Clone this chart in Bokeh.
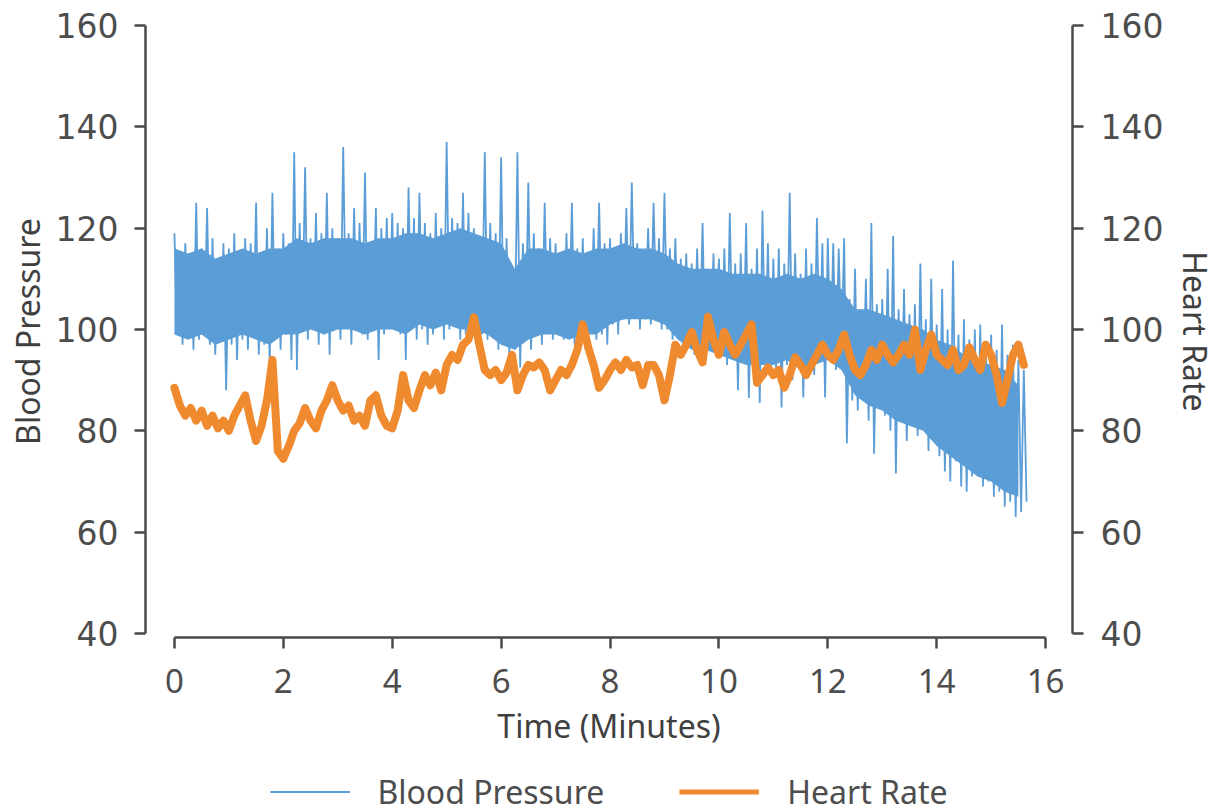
import numpy as np
from bokeh.plotting import figure
from bokeh.layouts import column
from bokeh.models import Range1d, LinearAxis, Legend, LegendItem, FixedTicker
from bokeh.embed import file_html
from bokeh.resources import INLINE

# ---------------- data ----------------
# Blood pressure, sampled every 0.05 min (alternating beat peaks / troughs)
bp_step = 0.05
bp_min00 = [119, 99, 113, 97, 117, 100, 115, 96, 125, 98, 116, 99, 124, 97, 118, 95, 114, 98, 117, 88]
bp_min01 = [116, 97, 119, 94, 113, 98, 118, 96, 117, 99, 125, 95, 115, 97, 120, 93, 127, 98, 116, 96]
bp_min02 = [119, 99, 117, 94, 135, 92, 121, 100, 132, 98, 118, 101, 123, 97, 119, 99, 127, 95, 120, 100]
bp_min03 = [118, 98, 136, 101, 119, 97, 124, 100, 121, 99, 131, 98, 117, 101, 124, 94, 120, 99, 122, 100]
bp_min04 = [123, 100, 121, 99, 120, 94, 128, 101, 122, 98, 127, 100, 121, 97, 119, 99, 123, 101, 120, 98]
bp_min05 = [137, 100, 122, 102, 121, 98, 127, 99, 123, 101, 120, 97, 118, 99, 135, 98, 121, 100, 119, 96]
bp_min06 = [134, 97, 118, 95, 110, 96, 135, 92.5, 117, 98, 129, 96, 119, 99, 116, 97, 125, 100, 118, 98]
bp_min07 = [117, 99, 115, 98, 119, 100, 125, 97, 116, 99, 118, 96, 114, 100, 120, 98, 125, 99, 117, 97]
bp_min08 = [118, 101, 116, 99, 119, 102, 124, 101, 129, 103, 117, 100, 115, 102, 120, 101, 125, 103, 118, 100]
bp_min09 = [127, 100, 116, 98, 118, 99, 114, 96, 115, 97, 113, 95, 116, 97, 121, 94, 112, 96, 115, 95]
bp_min10 = [114, 95, 116, 93, 123, 96, 113, 88, 115, 94, 121, 86.5, 112, 92, 116, 85.5, 123.5, 94, 117, 91]
bp_min11 = [114, 92, 116, 84.6, 113, 93, 127, 90, 115, 94, 111, 86.6, 116, 92, 113, 91, 122, 94, 117, 86.6]
bp_min12 = [118, 94, 117, 92, 116, 95, 118, 77.5, 106, 86, 112, 84, 104, 88, 110, 82, 121, 75.5, 105, 85]
bp_min13 = [106, 83, 112, 80, 118.5, 71.6, 104, 82, 108, 78, 103, 84, 105, 79, 113, 81, 102, 76, 110, 78]
bp_min14 = [101, 75, 108, 72, 100, 70, 113.6, 74, 99, 69, 102, 68, 98, 71, 100, 73, 101, 69, 97, 70]
bp_min15 = [99, 67, 96, 68, 101, 65, 95, 66, 97, 63, 94, 64, 92, 66]

# Dense core of the blood-pressure trace, every 0.25 min
core_step = 0.25
bp_core_upper = [116, 115, 116, 114, 115, 116, 115, 116, 116, 118, 117, 118, 118, 118, 117, 118,
                 118, 119, 119, 118, 119, 120, 119, 118, 117, 112, 116, 116, 115, 116, 115, 116,
                 116, 117, 116, 116, 115, 113, 112, 112, 112, 111, 111, 111, 110, 111, 110, 111,
                 110, 108, 104, 104, 103, 102, 101, 100, 98, 97, 95, 94, 93, 92, 89]
bp_core_lower = [99, 98, 99, 97, 98, 99, 98, 97, 99, 99, 100, 99, 100, 100, 99, 100,
                 100, 99, 101, 100, 101, 100, 100, 99, 97, 96, 98, 99, 99, 98, 99, 99,
                 101, 102, 102, 102, 101, 98, 96, 96, 95, 94, 93, 93, 93, 94, 92, 93,
                 94, 92, 87, 85, 84, 82, 81, 80, 77, 75, 73, 71, 70, 68, 67]

# Heart rate, sampled every 0.1 min
hr_step = 0.1
hr_values = [
    88.5, 85, 83, 84.5, 82, 84, 81, 83, 80.5, 82,
    80, 83, 85, 87, 82, 78, 81, 86, 94, 76,
    74.5, 77, 80, 81.5, 84.5, 82, 80.5, 84, 86, 89,
    86, 84, 85, 82, 83, 81, 86, 87, 83, 81,
    80.5, 84, 91, 86, 84.5, 88, 91, 89, 91.5, 88,
    93, 95, 94, 97, 98, 102.4, 97, 92, 91, 92,
    90, 91.5, 95, 88, 91, 93, 92.5, 93.5, 92, 88,
    90, 92, 91, 93, 96, 101, 96.5, 93, 88.5, 90,
    92, 93.5, 92, 94, 92.5, 93, 89, 93, 93, 91,
    86, 91, 97, 95, 97, 99.5, 96, 93.5, 102.5, 98,
    95, 99.5, 97, 95, 97, 99, 101, 89.5, 91, 92.5,
    91, 92, 88.5, 91, 94.5, 93, 91, 93, 95, 97,
    95, 94, 96, 99, 95, 92, 91, 93, 96, 94,
    97, 95, 93.5, 95, 97, 95, 100, 92, 96, 99,
    95, 94, 93, 96, 92, 93, 96.5, 94, 92, 97,
    95, 91, 85.5, 90, 95, 97, 93,
]

x_ticks = [0, 2, 4, 6, 8, 10, 12, 14, 16]
y_ticks = [40, 60, 80, 100, 120, 140, 160]

bp_values = (bp_min00 + bp_min01 + bp_min02 + bp_min03 + bp_min04 + bp_min05 + bp_min06 + bp_min07
             + bp_min08 + bp_min09 + bp_min10 + bp_min11 + bp_min12 + bp_min13 + bp_min14 + bp_min15)
bp_time = np.arange(len(bp_values)) * bp_step
core_time = np.arange(len(bp_core_upper)) * core_step
hr_time = np.arange(len(hr_values)) * hr_step

# ---------------- figure ----------------
BLUE = "#5B9DD6"
ORANGE = "#F08A2E"
AX = "#4a4a4a"
TXT = "#4d4d4d"
SANS = "Noto Sans"

MAIN_H = 770
p = figure(width=1220, height=MAIN_H, output_backend="svg", toolbar_location=None,
           x_range=Range1d(-0.531, 16.494), y_range=Range1d(39.21, 160),
           min_border_left=145, min_border_right=145, min_border_top=25,
           min_border_bottom=MAIN_H - 637)
p.extra_y_ranges = {"hr": Range1d(39.21, 160)}
p.outline_line_color = None
p.xgrid.visible = False
p.ygrid.visible = False
p.background_fill_color = "white"

p.varea(x=core_time, y1=bp_core_lower, y2=bp_core_upper, fill_color=BLUE, fill_alpha=1.0)
r_bp = p.line(bp_time, bp_values, line_color=BLUE, line_width=1.8)
r_hr = p.line(hr_time, hr_values, line_color=ORANGE, line_width=8, y_range_name="hr",
              line_join="round", line_cap="round")

def style_axis(ax, font, size):
    ax.axis_line_color = AX
    ax.axis_line_width = 2.5
    ax.major_tick_line_color = AX
    ax.major_tick_line_width = 2.5
    ax.major_tick_in = 0
    ax.major_tick_out = 11
    ax.minor_tick_line_color = None
    ax.major_label_text_font = font
    ax.major_label_text_font_size = size
    ax.major_label_text_color = TXT
    ax.axis_label_text_font = SANS
    ax.axis_label_text_font_size = "32px"
    ax.axis_label_text_font_style = "normal"
    ax.axis_label_text_color = "#3f3f3f"

xa = p.xaxis[0]
style_axis(xa, SANS, "33px")
xa.ticker = FixedTicker(ticks=x_ticks)
xa.bounds = (0, 16)
xa.major_label_standoff = 20
xa.axis_label = "Time (Minutes)"
xa.axis_label_standoff = 8

ya = p.yaxis[0]
style_axis(ya, "DejaVu Sans", "33px")
ya.ticker = FixedTicker(ticks=y_ticks)
ya.bounds = (40, 160)
ya.major_label_standoff = 16
ya.axis_label = "Blood Pressure"
ya.axis_label_standoff = 4

yr = LinearAxis(y_range_name="hr", axis_label="Heart Rate")
style_axis(yr, "DejaVu Sans", "33px")
yr.ticker = FixedTicker(ticks=y_ticks)
yr.bounds = (40, 160)
yr.major_label_standoff = 17
yr.axis_label_standoff = 8
p.add_layout(yr, "right")

# ---------------- legend strip ----------------
# the strip re-uses the series; its 0..1 y range keeps them out of view, only the legend shows
leg = figure(width=1220, height=812 - MAIN_H, output_backend="svg", toolbar_location=None,
             x_axis_type=None, y_axis_type=None, min_border=0,
             x_range=Range1d(0, 1), y_range=Range1d(0, 1))
leg.outline_line_color = None
leg.xgrid.visible = False
leg.ygrid.visible = False
lg_bp = leg.line(bp_time, bp_values, line_color=BLUE, line_width=2)
lg_hr = leg.line(hr_time, hr_values, line_color=ORANGE, line_width=5)
legend = Legend(items=[LegendItem(label="Blood Pressure", renderers=[lg_bp]),
                       LegendItem(label="Heart Rate", renderers=[lg_hr])],
                orientation="horizontal", location="center",
                glyph_width=80, glyph_height=30, label_standoff=28, spacing=75,
                padding=0, margin=0, border_line_color=None, background_fill_alpha=0,
                label_text_font=SANS, label_text_font_size="32px",
                label_text_color=TXT)
leg.add_layout(legend, "center")

open("out.html", "w").write(file_html(column(p, leg, spacing=0), INLINE))
